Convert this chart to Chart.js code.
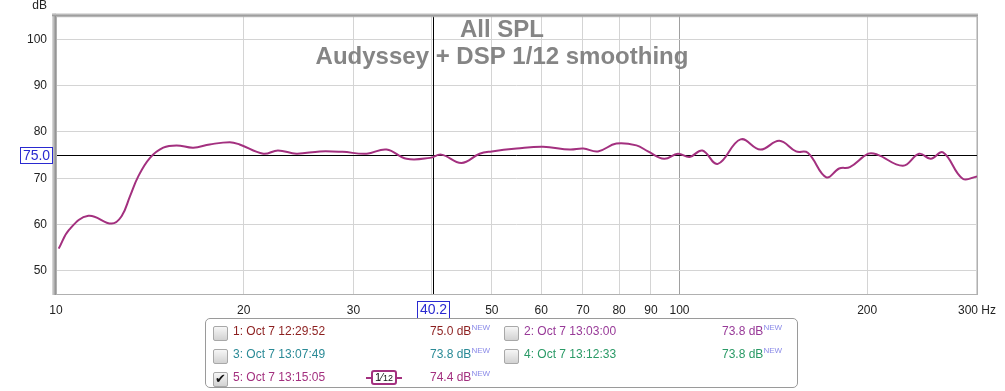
<!DOCTYPE html>
<html>
<head>
<meta charset="utf-8">
<script src="https://cdn.jsdelivr.net/npm/chart.js@4/dist/chart.umd.min.js"></script>
<style>
  body { margin: 0; background: #fff; font-family: "Liberation Sans", Arial, sans-serif; }
  #wrap { position: relative; width: 1005px; height: 391px; }
  #legend { position: absolute; left: 205px; top: 318px; width: 591px; height: 68px;
            border: 1px solid #9a9a9a; border-radius: 5px; font-size: 12px; }
  .it { position: absolute; white-space: nowrap; line-height: 14px; }
  .cb { position: absolute; width: 13px; height: 13px; border: 1px solid #a8a8a8; border-radius: 2px;
        background: linear-gradient(#f6f6f6, #d2d2d2); }
  .cb.on::after { content: "\2714"; position: absolute; left: 1px; top: -1px; font-size: 13px; line-height: 14px; color: #111; }
  .new { font-size: 8px; color: #8a8ae8; position: relative; top: -5px; }
  #smooth { position: absolute; left: 165px; top: 51px; width: 22px; height: 11px; border: 2px solid #a3307f;
            border-radius: 3px; font-size: 11px; color: #111; text-align: center; line-height: 11px; }
  #smooth small { font-size: 9px; }
  #smooth::before, #smooth::after { content: ""; position: absolute; top: 5px; width: 5px; height: 2px; background: #a3307f; }
  #smooth::before { left: -7px; } #smooth::after { right: -7px; }
</style>
</head>
<body>
<div id="wrap">
  <canvas id="myChart" width="1005" height="391"></canvas>
  <div id="legend">
    <div class="cb" style="left:7px;top:7px"></div>
    <div class="it" style="left:27px;top:5px;color:#8c1f1f">1: Oct 7 12:29:52</div>
    <div class="it" style="left:224px;top:5px;color:#8c1f1f">75.0 dB<span class="new">NEW</span></div>
    <div class="cb" style="left:298px;top:7px"></div>
    <div class="it" style="left:318px;top:5px;color:#983a98">2: Oct 7 13:03:00</div>
    <div class="it" style="left:516px;top:5px;color:#983a98">73.8 dB<span class="new">NEW</span></div>

    <div class="cb" style="left:7px;top:30px"></div>
    <div class="it" style="left:27px;top:28px;color:#2a8a96">3: Oct 7 13:07:49</div>
    <div class="it" style="left:224px;top:28px;color:#2a8a96">73.8 dB<span class="new">NEW</span></div>
    <div class="cb" style="left:298px;top:30px"></div>
    <div class="it" style="left:318px;top:28px;color:#2a9a66">4: Oct 7 13:12:33</div>
    <div class="it" style="left:516px;top:28px;color:#2a9a66">73.8 dB<span class="new">NEW</span></div>

    <div class="cb on" style="left:7px;top:53px"></div>
    <div class="it" style="left:27px;top:51px;color:#a3307f">5: Oct 7 13:15:05</div>
    <div id="smooth">1⁄<small>12</small></div>
    <div class="it" style="left:224px;top:51px;color:#a3307f">74.4 dB<span class="new">NEW</span></div>
  </div>
</div>
<script>
let freqs = [10.1, 10.5, 11.27, 12.28, 12.74, 13.14, 13.55, 14.15, 14.86, 15.61, 16.6, 17.64, 19.0, 19.7,
             21.5, 22.7, 24.3, 26.5, 28.8, 31.5, 33.9, 36.5, 39.8, 41.5, 44.7, 47.8, 50, 54.8, 60.4,
             66.7, 70.1, 74.0, 79.2, 85.3, 89.0, 94.5, 99.4, 103.8, 108.8, 115.2, 125.3, 134.8, 144.6,
             153.8, 160.6, 172, 180.3, 187.6, 200.8, 207.7, 228.2, 242.3, 252.9, 264.6, 284.6, 300];
let spl = [54.8, 58.9, 61.9, 60.2, 61.8, 66.1, 70.4, 74.4, 76.6, 77.1, 76.6, 77.3, 77.8, 77.3,
           75.3, 76.0, 75.3, 75.8, 75.7, 75.3, 76.2, 74.2, 74.4, 75.1, 73.3, 75.3, 75.8, 76.4, 76.8,
           76.2, 76.4, 75.8, 77.5, 77.1, 75.8, 74.2, 75.3, 74.6, 76.0, 73.1, 78.4, 76.2, 78.1,
           75.8, 75.5, 70.2, 72.1, 72.4, 75.3, 75.1, 72.7, 75.3, 74.2, 75.6, 69.9, 70.4];

let xTicks = [10, 20, 30, 40, 50, 60, 70, 80, 90, 100, 200, 300];
let xTickLabels = ['10', '20', '30', '', '50', '60', '70', '80', '90', '100', '200', '300 Hz'];
let yTicks = [50, 60, 70, 80, 90, 100];
let titleLines = ['All SPL', 'Audyssey + DSP 1/12 smoothing'];
let cursor = { x: 40.2, y: 75.0 };

let overlay = {
    id: 'overlay',
    beforeDatasetsDraw(chart) {
        let c = chart.ctx, a = chart.chartArea;
        let xs = chart.scales.x, ys = chart.scales.y;
        c.save();
        c.fillStyle = '#858585';
        c.font = 'bold 24px "Liberation Sans", Arial';
        c.textAlign = 'center';
        c.textBaseline = 'middle';
        c.fillText(titleLines[0], 502, 30);
        c.fillText(titleLines[1], 502, 57);
        c.strokeStyle = '#000';
        c.lineWidth = 1;
        let px = Math.round(xs.getPixelForValue(cursor.x)) + 0.5;
        let py = Math.round(ys.getPixelForValue(cursor.y)) + 0.5;
        c.beginPath();
        c.moveTo(px, a.top); c.lineTo(px, a.bottom);
        c.moveTo(a.left, py); c.lineTo(a.right, py);
        c.stroke();
        c.restore();
    },
    afterDraw(chart) {
        let c = chart.ctx, a = chart.chartArea;
        let xs = chart.scales.x, ys = chart.scales.y;
        c.save();
        // frame
        c.strokeStyle = '#b0b0b0';
        c.lineWidth = 1;
        c.strokeRect(a.left + 0.5, a.top + 0.5, a.right - a.left, a.bottom - a.top);
        let g = c.createLinearGradient(a.left - 4, 0, a.left, 0);
        g.addColorStop(0, '#e0e0e0'); g.addColorStop(1, '#8a8a8a');
        c.fillStyle = g;
        c.fillRect(a.left - 4, a.top - 3, 4, a.bottom - a.top + 4);
        let g2 = c.createLinearGradient(0, a.top - 3, 0, a.top);
        g2.addColorStop(0, '#e0e0e0'); g2.addColorStop(1, '#8a8a8a');
        c.fillStyle = g2;
        c.fillRect(a.left - 4, a.top - 3, a.right - a.left + 5, 3);
        // dB label
        c.fillStyle = '#222';
        c.font = '12px "Liberation Sans", Arial';
        c.textAlign = 'right';
        c.textBaseline = 'middle';
        c.fillText('dB', 47, 6);
        // cursor boxes
        c.font = '14px "Liberation Sans", Arial';
        c.textAlign = 'center';
        let py = Math.round(ys.getPixelForValue(cursor.y));
        let px = Math.round(xs.getPixelForValue(cursor.x));
        c.fillStyle = '#fff';
        c.strokeStyle = '#2a2ad0';
        c.fillRect(20, py - 8, 32, 16);
        c.strokeRect(20.5, py - 7.5, 32, 16);
        c.fillRect(px - 16, 301, 32, 17);
        c.strokeRect(px - 15.5, 301.5, 32, 17);
        c.fillStyle = '#2a2ad0';
        c.fillText(cursor.y.toFixed(1), 36.5, py + 1);
        c.fillText(cursor.x.toFixed(1), px + 0.5, 310.5);
        c.restore();
    }
};

let ctx = document.getElementById('myChart').getContext('2d');

let chart = new Chart(ctx, {
    type: 'line',
    data: {
        datasets: [{
            data: freqs.map((f, i) => ({ x: f, y: spl[i] })),
            borderColor: '#a3307f',
            borderWidth: 2,
            pointRadius: 0,
            tension: 0.4,
            fill: false
        }]
    },
    options: {
        responsive: false,
        animation: false,
        layout: { padding: { top: 16, right: 26, left: 0, bottom: 0 } },
        plugins: { legend: { display: false }, title: { display: false }, tooltip: { enabled: false } },
        scales: {
            x: {
                type: 'logarithmic',
                min: 10,
                max: 300,
                afterBuildTicks: s => { s.ticks = xTicks.map(v => ({ value: v })); },
                afterFit: s => { s.height = 97; },
                border: { display: false },
                grid: {
                    drawTicks: false,
                    color: c => (c.tick && c.tick.value === 100) ? '#a0a0a0' : '#d4d4d4'
                },
                ticks: {
                    autoSkip: false,
                    maxRotation: 0,
                    padding: 9,
                    color: '#222',
                    font: { family: '"Liberation Sans", Arial', size: 12 },
                    callback: (v, i) => xTickLabels[i]
                }
            },
            y: {
                min: 45,
                max: 105,
                afterBuildTicks: s => { s.ticks = yTicks.map(v => ({ value: v })); },
                afterFit: s => { s.width = 56; },
                border: { display: false },
                grid: { drawTicks: false, color: '#d4d4d4' },
                ticks: {
                    padding: 9,
                    color: '#222',
                    font: { family: '"Liberation Sans", Arial', size: 12 }
                }
            }
        }
    },
    plugins: [overlay]
});
</script>
</body>
</html>
